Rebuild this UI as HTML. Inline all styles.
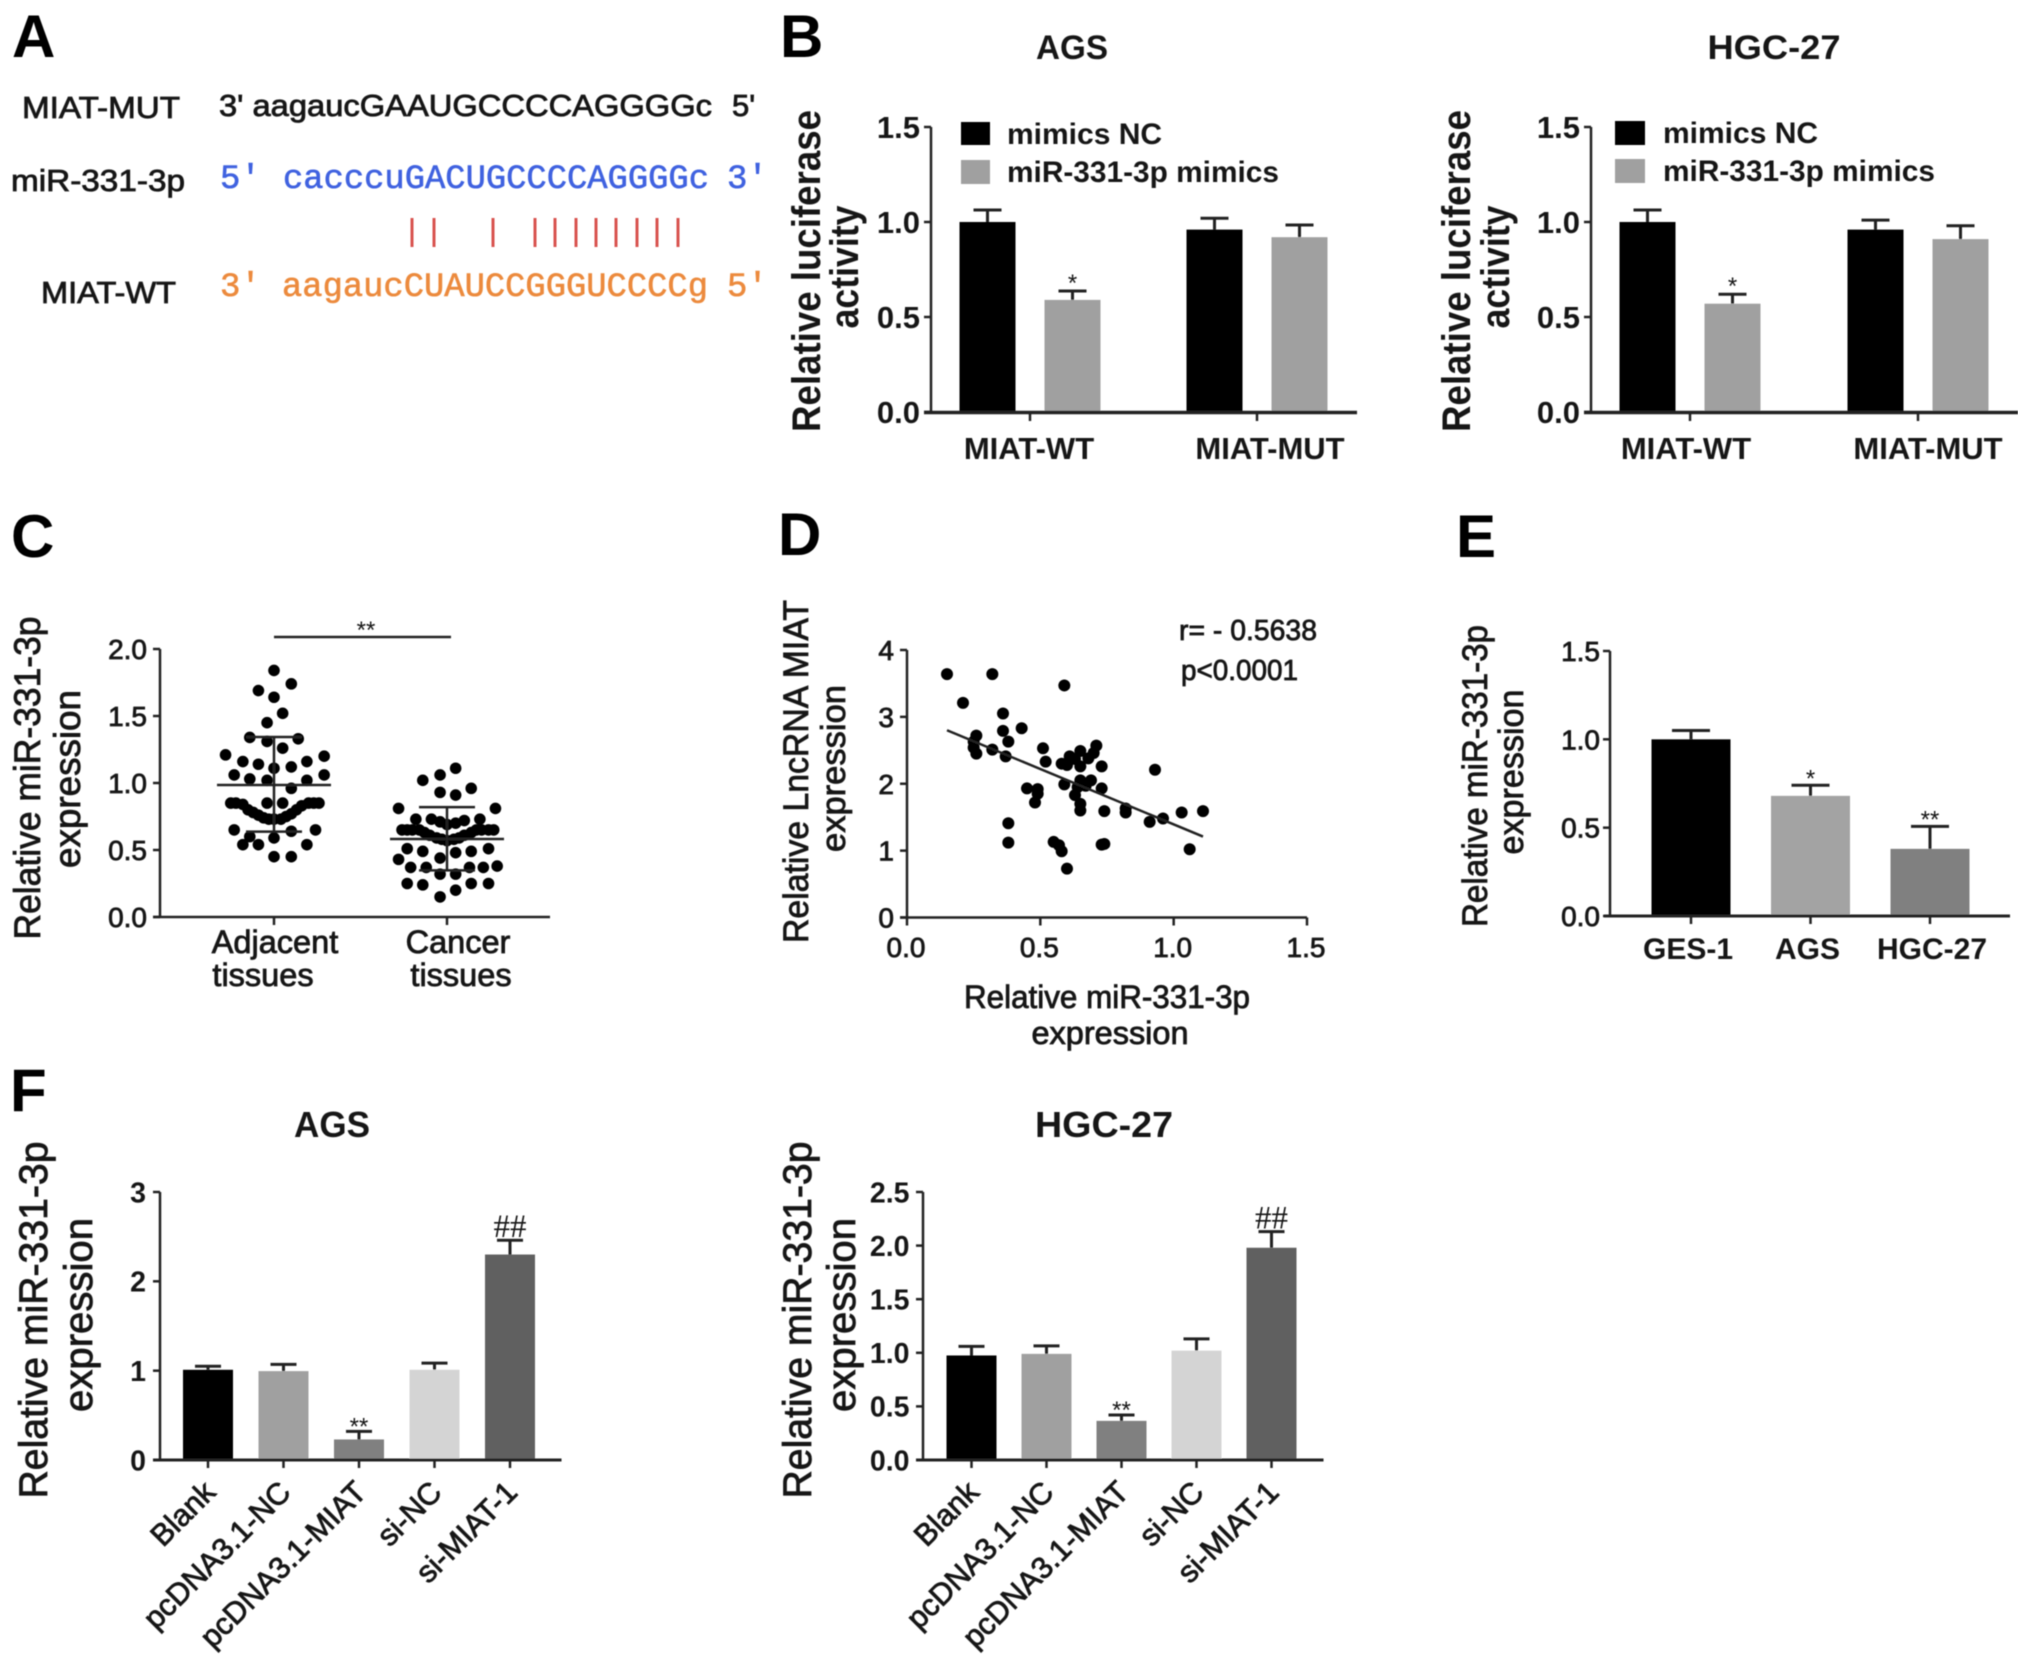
<!DOCTYPE html>
<html lang="en">
<head>
<meta charset="utf-8">
<title>MIAT and miR-331-3p multi-panel figure</title>
<style>
html,body{margin:0;padding:0;background:#fff;}
svg{display:block;}
text{font-family:"Liberation Sans",Arial,sans-serif;fill:#161616;}
.b{font-weight:700;}
.m{font-weight:400;stroke:#161616;stroke-width:.8px;}
.letter{font-weight:700;font-size:60px;fill:#000;}
.mono{font-family:"Liberation Mono",monospace;font-weight:400;stroke-width:.6px;}
</style>
</head>
<body>
<svg xmlns="http://www.w3.org/2000/svg" width="2031" height="1663" viewBox="0 0 2031 1663">
<defs><filter id="soft" x="0" y="0" width="100%" height="100%"><feGaussianBlur stdDeviation="0.6"/></filter></defs>
<rect width="2031" height="1663" fill="#fff"/>
<g id="root" filter="url(#soft)">

<!-- Panel letters -->
<text class="letter" x="12" y="57">A</text>
<text class="letter" x="780" y="57">B</text>
<text class="letter" x="11" y="557">C</text>
<text class="letter" x="778" y="555">D</text>
<text class="letter" x="1456" y="557">E</text>
<text class="letter" x="10" y="1111">F</text>

<!-- Panel A -->
<g>
<text class="m" x="22" y="118" font-size="31" textLength="158" lengthAdjust="spacingAndGlyphs">MIAT-MUT</text>
<text class="m" x="11" y="191" font-size="31" textLength="174" lengthAdjust="spacingAndGlyphs">miR-331-3p</text>
<text class="m" x="41" y="303" font-size="31" textLength="135" lengthAdjust="spacingAndGlyphs">MIAT-WT</text>
<text class="m" x="219" y="116" font-size="31" textLength="493" lengthAdjust="spacingAndGlyphs">3' aagaucGAAUGCCCCAGGGGc</text>
<text class="m" x="732" y="116" font-size="31">5'</text>
<text class="mono" style="fill:#3f62e0;stroke:#3f62e0" x="220" y="188" font-size="34">5'</text>
<text class="mono" style="fill:#3f62e0;stroke:#3f62e0" x="283" y="188" font-size="34" textLength="426" lengthAdjust="spacingAndGlyphs">cacccuGACUGCCCCAGGGGc</text>
<text class="mono" style="fill:#3f62e0;stroke:#3f62e0" x="727" y="188" font-size="34">3'</text>
<text class="mono" style="fill:#ec8a3c;stroke:#ec8a3c" x="220" y="296" font-size="34">3'</text>
<text class="mono" style="fill:#ec8a3c;stroke:#ec8a3c" x="282" y="296" font-size="34" textLength="426" lengthAdjust="spacingAndGlyphs">aagaucCUAUCCGGGUCCCCg</text>
<text class="mono" style="fill:#ec8a3c;stroke:#ec8a3c" x="727" y="296" font-size="34">5'</text>
<path d="M412 218V247M434 218V247M493 218V247M535 218V247M555 218V247M576 218V247M596 218V247M616 218V247M637 218V247M657 218V247M678 218V247" stroke="#d9534f" stroke-width="3" fill="none"/>
</g>

<!-- Panel B AGS -->
<g id="b-ags">
<text class="b" x="1072" y="59" font-size="34" text-anchor="middle" textLength="72" lengthAdjust="spacingAndGlyphs">AGS</text>
<text class="b" transform="translate(820,271) rotate(-90)" font-size="40" text-anchor="middle" textLength="322" lengthAdjust="spacingAndGlyphs">Relative luciferase</text>
<text class="b" transform="translate(858,267) rotate(-90)" font-size="40" text-anchor="middle" textLength="123" lengthAdjust="spacingAndGlyphs">activity</text>
<rect x="961" y="122" width="29" height="23" fill="#000"/>
<text class="b" x="1007" y="144" font-size="30">mimics NC</text>
<rect x="961" y="160" width="29" height="24" fill="#a0a0a0"/>
<text class="b" x="1007" y="182" font-size="30" textLength="272" lengthAdjust="spacingAndGlyphs">miR-331-3p mimics</text>
</g>

<!-- Panel B HGC-27 -->
<g id="b-hgc">
<text class="b" x="1774" y="59" font-size="34" text-anchor="middle" textLength="133" lengthAdjust="spacingAndGlyphs">HGC-27</text>
<text class="b" transform="translate(1470,271) rotate(-90)" font-size="40" text-anchor="middle" textLength="322" lengthAdjust="spacingAndGlyphs">Relative luciferase</text>
<text class="b" transform="translate(1509,267) rotate(-90)" font-size="40" text-anchor="middle" textLength="123" lengthAdjust="spacingAndGlyphs">activity</text>
<rect x="1615" y="121" width="30" height="24" fill="#000"/>
<text class="b" x="1663" y="143" font-size="30">mimics NC</text>
<rect x="1615" y="159" width="30" height="24" fill="#a0a0a0"/>
<text class="b" x="1663" y="181" font-size="30" textLength="272" lengthAdjust="spacingAndGlyphs">miR-331-3p mimics</text>
</g>

<!-- Panel C -->
<g id="c">
<text class="m" transform="translate(40,778) rotate(-90)" font-size="37" text-anchor="middle" textLength="323" lengthAdjust="spacingAndGlyphs">Relative miR-331-3p</text>
<text class="m" transform="translate(80,779) rotate(-90)" font-size="37" text-anchor="middle" textLength="178" lengthAdjust="spacingAndGlyphs">expression</text>
<line x1="274" y1="637" x2="451" y2="637" stroke="#222" stroke-width="2.5"/>
<text x="366" y="638" font-size="24" text-anchor="middle">**</text>
<text class="m" x="275" y="953" font-size="32.5" text-anchor="middle">Adjacent</text>
<text class="m" x="263" y="986" font-size="32.5" text-anchor="middle">tissues</text>
<text class="m" x="458" y="953" font-size="32.5" text-anchor="middle">Cancer</text>
<text class="m" x="461" y="986" font-size="32.5" text-anchor="middle">tissues</text>
</g>

<!-- Panel D -->
<g id="d">
<text class="m" transform="translate(808,771.5) rotate(-90)" font-size="35" text-anchor="middle" textLength="343" lengthAdjust="spacingAndGlyphs">Relative LncRNA MIAT</text>
<text class="m" transform="translate(845,768.5) rotate(-90)" font-size="34" text-anchor="middle" textLength="167" lengthAdjust="spacingAndGlyphs">expression</text>
<text class="m" x="1107" y="1008" font-size="32" text-anchor="middle" textLength="286" lengthAdjust="spacingAndGlyphs">Relative miR-331-3p</text>
<text class="m" x="1110" y="1044" font-size="32" text-anchor="middle" textLength="157" lengthAdjust="spacingAndGlyphs">expression</text>
<text class="m" x="1179" y="640" font-size="29" textLength="138" lengthAdjust="spacingAndGlyphs">r= - 0.5638</text>
<text class="m" x="1181" y="680" font-size="29" textLength="117" lengthAdjust="spacingAndGlyphs">p&lt;0.0001</text>
</g>

<!-- Panel E -->
<g id="e">
<text class="m" transform="translate(1487,776) rotate(-90)" font-size="35" text-anchor="middle" textLength="302" lengthAdjust="spacingAndGlyphs">Relative miR-331-3p</text>
<text class="m" transform="translate(1523,772) rotate(-90)" font-size="35" text-anchor="middle" textLength="165" lengthAdjust="spacingAndGlyphs">expression</text>
</g>

<!-- Panel F AGS -->
<g id="f-ags">
<text class="b" x="332" y="1137" font-size="36" text-anchor="middle" textLength="76" lengthAdjust="spacingAndGlyphs">AGS</text>
<text class="m" transform="translate(47,1320) rotate(-90)" font-size="40" text-anchor="middle" textLength="357" lengthAdjust="spacingAndGlyphs">Relative miR-331-3p</text>
<text class="m" transform="translate(92,1315) rotate(-90)" font-size="40" text-anchor="middle" textLength="194" lengthAdjust="spacingAndGlyphs">expression</text>
</g>

<!-- Panel F HGC-27 -->
<g id="f-hgc">
<text class="b" x="1104" y="1137" font-size="36" text-anchor="middle" textLength="138" lengthAdjust="spacingAndGlyphs">HGC-27</text>
<text class="m" transform="translate(811,1320) rotate(-90)" font-size="40" text-anchor="middle" textLength="357" lengthAdjust="spacingAndGlyphs">Relative miR-331-3p</text>
<text class="m" transform="translate(855,1315) rotate(-90)" font-size="40" text-anchor="middle" textLength="194" lengthAdjust="spacingAndGlyphs">expression</text>
</g>
</g>
</svg>

<script>
/* ---------- Panel B data ---------- */
const bCategories = ['MIAT-WT', 'MIAT-MUT'];
const bTickLabels = ['0.0', '0.5', '1.0', '1.5'];
const bAgsNc = [1.0, 0.96];
const bAgsNcErr = [0.063, 0.06];
const bAgsMimics = [0.59, 0.92];
const bAgsMimicsErr = [0.047, 0.064];
const bAgsMarks = ['*', ''];
const bHgcNc = [1.0, 0.96];
const bHgcNcErr = [0.063, 0.05];
const bHgcMimics = [0.57, 0.91];
const bHgcMimicsErr = [0.05, 0.07];
const bHgcMarks = ['*', ''];

/* ---------- Panel C data ---------- */
const cCategories = ['Adjacent tissues', 'Cancer tissues'];
const cTickLabels = ['0.0', '0.5', '1.0', '1.5', '2.0'];
const cAdjacentValues = [1.84,1.74,1.69,1.64,1.52,1.45,1.34,1.33,1.31,1.26,1.21,1.20,1.16,1.14,1.16,1.12,1.11,1.06,1.06,1.03,1.02,1.02,0.96,0.85,0.85,0.84,0.80,0.78,0.76,0.74,0.73,0.73,0.73,0.75,0.77,0.80,0.83,0.85,0.85,0.85,0.85,0.85,0.65,0.65,0.64,0.59,0.60,0.54,0.54,0.54,0.45,0.45];
const cAdjacentJitter = [0,0.10,-0.09,0,0.05,-0.04,-0.14,0.14,-0.04,0.05,-0.28,0.29,-0.18,-0.09,0.19,0.10,0,-0.23,0.29,-0.14,-0.04,0.19,0.10,-0.25,-0.22,-0.18,-0.15,-0.12,-0.09,-0.06,-0.03,0,0.04,0.07,0.10,0.13,0.16,0.20,0.23,0.26,-0.04,0.05,-0.23,0.24,0.10,0,-0.14,-0.18,-0.09,0.19,0,0.10];
const cCancerValues = [1.11,1.06,1.02,0.96,0.93,0.91,0.81,0.81,0.73,0.73,0.73,0.71,0.69,0.70,0.72,0.65,0.65,0.65,0.65,0.63,0.61,0.59,0.58,0.57,0.58,0.59,0.61,0.63,0.65,0.65,0.65,0.65,0.51,0.49,0.44,0.48,0.49,0.51,0.43,0.37,0.37,0.37,0.37,0.38,0.32,0.32,0.25,0.24,0.25,0.25,0.20,0.15];
const cCancerJitter = [0.05,-0.04,-0.14,0.14,-0.04,0.05,-0.28,0.28,-0.18,-0.09,0.19,-0.04,0,0.05,0.10,-0.26,-0.23,-0.20,-0.16,-0.13,-0.10,-0.06,-0.03,0,0.04,0.07,0.10,0.14,0.17,0.20,0.24,0.27,-0.23,-0.14,-0.04,0.05,0.14,0.24,-0.28,-0.21,-0.12,0.13,0.21,0.29,-0.04,0.05,-0.23,-0.14,0.14,0.24,0.05,-0.04];
const cMeans = [0.985, 0.582];
const cSdUpper = [1.343, 0.82];
const cSdLower = [0.637, 0.348];

/* ---------- Panel D data ---------- */
const dXTickLabels = ['0.0', '0.5', '1.0', '1.5'];
const dYTickLabels = ['0', '1', '2', '3', '4'];
const dXValues = [0.15,0.32,0.59,0.21,0.36,0.43,0.36,0.26,0.25,0.25,0.38,0.32,0.26,0.37,0.51,0.52,0.71,0.70,0.65,0.61,0.68,0.58,0.60,0.65,0.63,0.73,0.93,0.59,0.65,0.69,0.67,0.64,0.73,0.45,0.49,0.49,0.48,0.63,0.65,0.65,0.74,0.82,0.82,0.96,1.03,1.11,0.91,0.38,0.38,0.55,0.57,0.58,0.73,0.74,1.06,0.60];
const dYValues = [3.64,3.64,3.47,3.21,3.05,2.83,2.79,2.72,2.63,2.54,2.63,2.51,2.45,2.41,2.53,2.33,2.57,2.46,2.49,2.41,2.38,2.30,2.28,2.26,2.37,2.26,2.21,1.99,2.05,2.05,1.97,1.95,1.93,1.93,1.92,1.85,1.72,1.83,1.70,1.60,1.59,1.63,1.57,1.48,1.57,1.59,1.43,1.41,1.12,1.13,1.08,0.99,1.09,1.10,1.02,0.73];
const dFitX = [0.15, 1.11];
const dFitY = [2.80, 1.21];

/* ---------- Panel E data ---------- */
const eCategories = ['GES-1', 'AGS', 'HGC-27'];
const eTickLabels = ['0.0', '0.5', '1.0', '1.5'];
const eValues = [1.0, 0.68, 0.38];
const eErrors = [0.05, 0.06, 0.127];
const eColors = ['#000000', '#a3a3a3', '#808080'];
const eMarks = ['', '*', '**'];

/* ---------- Panel F data ---------- */
const fCategories = ['Blank', 'pcDNA3.1-NC', 'pcDNA3.1-MIAT', 'si-NC', 'si-MIAT-1'];
const fColors = ['#000000', '#a0a0a0', '#808080', '#d4d4d4', '#606060'];
const fAgsTickLabels = ['0', '1', '2', '3'];
const fAgsValues = [1.01, 0.995, 0.23, 1.01, 2.30];
const fAgsErrors = [0.04, 0.075, 0.09, 0.075, 0.16];
const fAgsMarks = ['', '', '**', '', '##'];
const fHgcTickLabels = ['0.0', '0.5', '1.0', '1.5', '2.0', '2.5'];
const fHgcValues = [0.975, 0.99, 0.365, 1.02, 1.98];
const fHgcErrors = [0.085, 0.075, 0.055, 0.11, 0.15];
const fHgcMarks = ['', '', '**', '', '##'];

/* ---------- helpers ---------- */
const NS = 'http://www.w3.org/2000/svg';
function linear(d0, d1, r0, r1) { return function (v) { return r0 + (v - d0) * (r1 - r0) / (d1 - d0); }; }
function make(parent, tag, attrs, txt) {
  const el = document.createElementNS(NS, tag);
  for (const k in attrs) el.setAttribute(k, attrs[k]);
  if (txt !== undefined) el.textContent = txt;
  parent.appendChild(el);
  return el;
}
function yAxis(g, x, yScale, labels, size, right, width, cls) {
  const vals = labels.map(Number);
  const axis = make(g, 'line', {x1: x, x2: x, y1: yScale(vals[vals.length - 1]), y2: yScale(vals[0]), stroke: '#222', 'stroke-width': width});
  
  
  labels.forEach(function (lab, i) {
    const y = yScale(vals[i]);
    const tick = make(g, 'line', {x1: x - 7, x2: x, y1: y, y2: y, stroke: '#222', 'stroke-width': 2.5});
    
    
    const t = make(g, 'text', {x: right, y: y + size * 0.36, 'font-size': size, 'text-anchor': 'end', 'class': cls}, lab);
    
    
  });
}
function xAxisLine(g, x0, x1, y, width) {
  const line = make(g, 'line', {x1: x0, x2: x1, y1: y, y2: y, stroke: '#222', 'stroke-width': width});
  
  
}
function xTick(g, x, y) {
  const tick = make(g, 'line', {x1: x, x2: x, y1: y, y2: y + 8, stroke: '#222', 'stroke-width': 2.5});
  
  
}
function barWithError(g, cx, w, capW, val, err, color, yScale) {
  const top = yScale(val);
  const errTop = yScale(val + err);
  const stem = make(g, 'line', {x1: cx, x2: cx, y1: top, y2: errTop, stroke: '#222', 'stroke-width': 3});
  
  
  const cap = make(g, 'line', {x1: cx - capW / 2, x2: cx + capW / 2, y1: errTop, y2: errTop, stroke: '#222', 'stroke-width': 3});
  
  
  const bar = make(g, 'rect', {x: cx - w / 2, y: top, width: w, height: yScale(0) - top, fill: color});
  
  
  return errTop;
}
function mark(g, cx, errTop, str, gap) {
  if (!str) return;
  if (str.charAt(0) === '#') {
    const h = make(g, 'text', {x: cx, y: errTop - gap + 8, 'font-size': 33, 'text-anchor': 'middle'}, str);
    h.style.fontFamily = '"Liberation Serif", serif';
    
    
  } else {
    const s = make(g, 'text', {x: cx, y: errTop - gap + 14, 'font-size': 24, 'text-anchor': 'middle'}, str);
    
    
  }
}

/* ---------- Panel B ---------- */
function drawB(id, axisX, axisEnd, tick0, tickStep, labelShift, nc, ncErr, mim, mimErr, marks) {
  const g = document.getElementById(id);
  const yB = linear(0, 1.5, 412, 127);
  const xB = function (i) { return tick0 + tickStep * i; };
  bCategories.forEach(function (cat, i) {
    barWithError(g, xB(i) - 42.5, 56, 28, nc[i], ncErr[i], '#000000', yB);
    const top = barWithError(g, xB(i) + 42.5, 56, 28, mim[i], mimErr[i], '#a0a0a0', yB);
    mark(g, xB(i) + 42.5, top, marks[i], 14);
    xTick(g, xB(i), 413);
    const lab = make(g, 'text', {x: xB(i) + (i ? 13 : -1) + labelShift, y: 459, 'font-size': 31, 'text-anchor': 'middle', 'class': 'b'}, cat);
    
    
  });
  xAxisLine(g, axisX - 7, axisEnd, 412.5, 3.5);
  yAxis(g, axisX, yB, bTickLabels, 31, axisX - 11, 2.5, 'b');
}
drawB('b-ags', 931, 1357, 1030, 227, 0, bAgsNc, bAgsNcErr, bAgsMimics, bAgsMimicsErr, bAgsMarks);
drawB('b-hgc', 1591, 2018, 1690, 228, -3, bHgcNc, bHgcNcErr, bHgcMimics, bHgcMimicsErr, bHgcMarks);

/* ---------- Panel C ---------- */
(function () {
  const g = document.getElementById('c');
  const yC = linear(0, 2, 917, 649);
  const xC = linear(0, 1, 274, 447);
  const series = [[cAdjacentValues, cAdjacentJitter], [cCancerValues, cCancerJitter]];
  series.forEach(function (s, c) {
    s[0].forEach(function (v, i) {
      const dot = make(g, 'circle', {cx: xC(c + s[1][i]), cy: yC(v), r: 5.8, fill: '#000'});
      
      
    });
    const stem = make(g, 'line', {x1: xC(c), x2: xC(c), y1: yC(cSdUpper[c]), y2: yC(cSdLower[c]), stroke: '#222', 'stroke-width': 2.5});
    
    
    [cSdUpper[c], cSdLower[c]].forEach(function (v) {
      const cap = make(g, 'line', {x1: xC(c) - 28, x2: xC(c) + 28, y1: yC(v), y2: yC(v), stroke: '#222', 'stroke-width': 2.5});
      
      
    });
    const mean = make(g, 'line', {x1: xC(c) - 57, x2: xC(c) + 57, y1: yC(cMeans[c]), y2: yC(cMeans[c]), stroke: '#222', 'stroke-width': 2.5});
    
    
    xTick(g, xC(c), 917);
  });
  xAxisLine(g, 153, 550, 917, 2.5);
  yAxis(g, 160, yC, cTickLabels, 28, 147, 2.5, 'm');
})();

/* ---------- Panel D ---------- */
(function () {
  const g = document.getElementById('d');
  const xD = linear(0, 1.5, 907, 1307);
  const yD = linear(0, 4, 917.5, 650);
  dXValues.forEach(function (v, i) {
    const dot = make(g, 'circle', {cx: xD(v), cy: yD(dYValues[i]), r: 6, fill: '#000'});
    
    
  });
  const fit = make(g, 'line', {x1: xD(dFitX[0]), y1: yD(dFitY[0]), x2: xD(dFitX[1]), y2: yD(dFitY[1]), stroke: '#222', 'stroke-width': 2.5});
  
  
  dXTickLabels.forEach(function (lab) {
    xTick(g, xD(Number(lab)), 917.5);
    const t = make(g, 'text', {x: xD(Number(lab)) - 1, y: 957, 'font-size': 28, 'text-anchor': 'middle', 'class': 'm'}, lab);
    
    
  });
  xAxisLine(g, 900, 1307, 917.5, 2.5);
  yAxis(g, 907, yD, dYTickLabels, 28, 894, 2.5, 'm');
})();

/* ---------- Panel E ---------- */
(function () {
  const g = document.getElementById('e');
  const yE = linear(0, 1.5, 916, 651);
  const xE = function (i) { return 1691 + 119.5 * i; };
  eCategories.forEach(function (cat, i) {
    const top = barWithError(g, xE(i), 79, 38, eValues[i], eErrors[i], eColors[i], yE);
    mark(g, xE(i), top, eMarks[i], 13);
    xTick(g, xE(i), 916);
    const t = make(g, 'text', {x: xE(i) - 3 + (i === 2 ? 5 : 0), y: 959, 'font-size': 30, 'text-anchor': 'middle', 'class': 'b'}, cat);
    
    
  });
  xAxisLine(g, 1604, 2010, 916, 3);
  yAxis(g, 1610, yE, eTickLabels, 28, 1600, 2.5, 'm');
})();

/* ---------- Panel F ---------- */
function drawF(id, axisX, axisEnd, tick0, tickStep, yScale, labels, vals, errs, marks, labelRight) {
  const g = document.getElementById(id);
  const xF = function (i) { return tick0 + tickStep * i; };
  fCategories.forEach(function (cat, i) {
    const top = barWithError(g, xF(i), 50, 26, vals[i], errs[i], fColors[i], yScale);
    mark(g, xF(i), top, marks[i], 11);
    xTick(g, xF(i), 1460);
    const t = make(g, 'text', {transform: 'translate(' + (xF(i) + 9) + ',1494) rotate(-45)', 'font-size': 30.5, 'text-anchor': 'end', 'class': 'm'}, cat);
    
    
  });
  xAxisLine(g, axisX - 7, axisEnd, 1460, 3);
  yAxis(g, axisX, yScale, labels, 28.5, labelRight, 2.5, 'b');
}
drawF('f-ags', 160, 561.5, 208, 75.5, linear(0, 3, 1460, 1192), fAgsTickLabels, fAgsValues, fAgsErrors, fAgsMarks, 146);
drawF('f-hgc', 923, 1323.5, 971.5, 75, linear(0, 2.5, 1460, 1192), fHgcTickLabels, fHgcValues, fHgcErrors, fHgcMarks, 909.5);
</script>
</body>
</html>
